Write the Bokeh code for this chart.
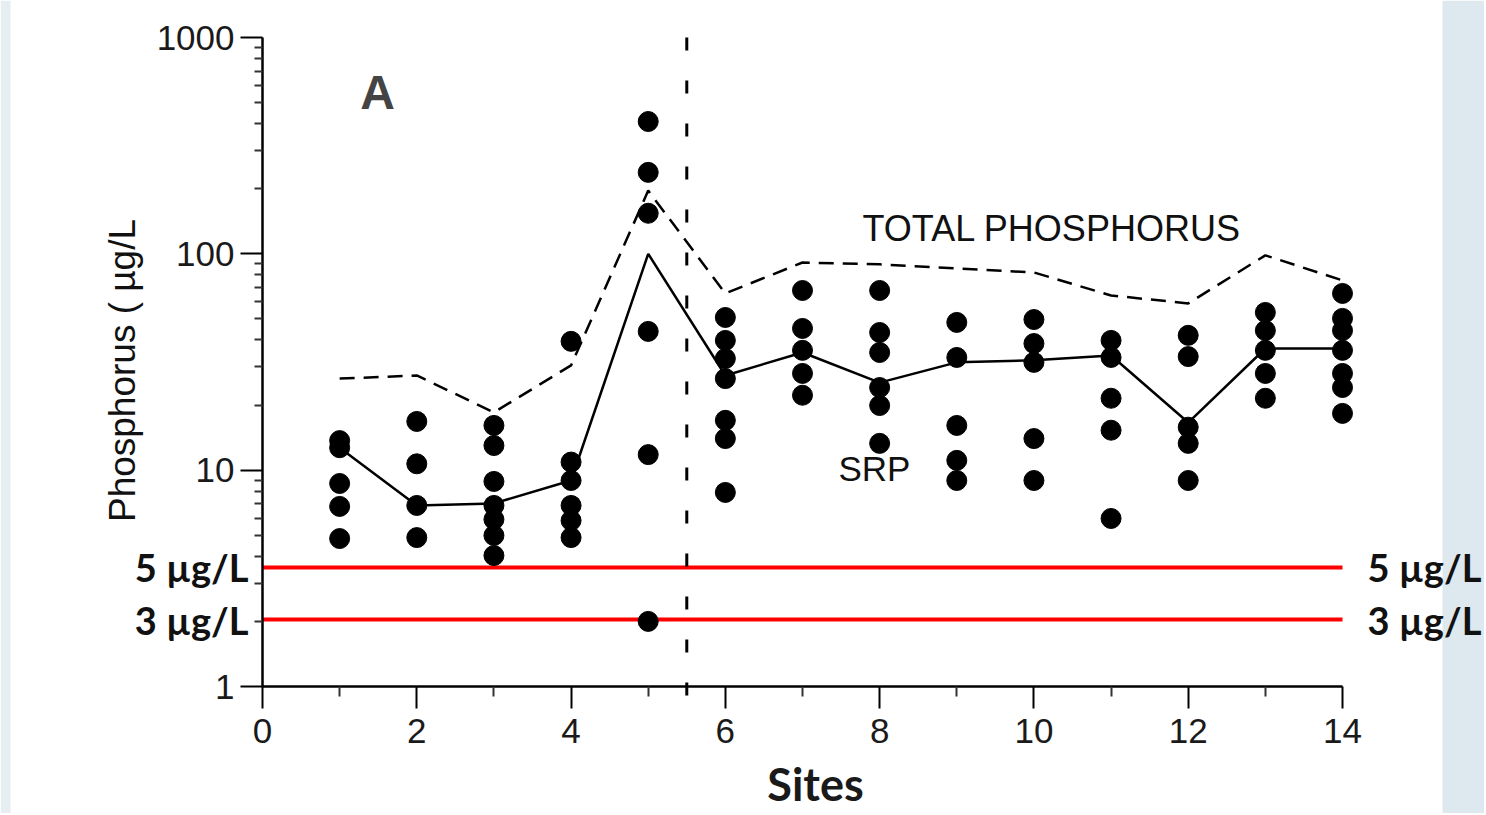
import math
from bokeh.plotting import figure
from bokeh.models import Label, FixedTicker, NumeralTickFormatter, Range1d, LinearAxis, LogAxis, BoxAnnotation
from bokeh.embed import file_html
from bokeh.resources import INLINE

# ---------------- data ----------------
sites = list(range(1, 15))
srp_dots = [
    [13.7, 12.7, 8.68, 6.80, 4.83],            # site 1
    [16.8, 10.7, 6.87, 4.88],                  # site 2
    [16.1, 13.0, 8.87, 6.87, 5.92, 4.99, 4.03],# site 3
    [39.4, 10.9, 8.96, 6.87, 5.85, 4.88],      # site 4
    [409, 238, 154, 43.8, 11.8, 2.0],          # site 5
    [50.8, 39.8, 32.8, 26.5, 17.0, 14.0, 7.89],# site 6
    [67.7, 45.2, 35.8, 28.0, 22.2],            # site 7
    [67.7, 43.3, 35.0, 24.1, 19.9, 13.3],      # site 8
    [48.2, 33.2, 16.1, 11.1, 8.96],            # site 9
    [49.7, 38.5, 31.5, 14.0, 8.96],            # site 10
    [39.8, 33.2, 21.5, 15.3, 5.98],            # site 11
    [42.0, 33.5, 15.8, 13.3, 8.96],            # site 12
    [53.6, 44.2, 35.8, 28.0, 21.5],            # site 13
    [65.6, 50.3, 44.2, 35.8, 28.0, 24.1, 18.3],# site 14
]
srp_line = [12.7, 6.87, 7.02, 8.96, 100, 27.4, 35.0, 25.4, 31.5, 32.2, 33.9, 16.6, 36.5, 36.5]
tp_line = [26.5, 27.4, 18.5, 30.5, 196, 65.6, 91.2, 89.4, 85.6, 82.0, 64.2, 59.0, 98.4, 75.4]
divider_site = 5.5
limit_levels = [3.55, 2.04]
limit_labels = ["5 µg/L", "3 µg/L"]
x_ticks = [0, 2, 4, 6, 8, 10, 12, 14]
x_minor = [1, 3, 5, 7, 9, 11, 13]
y_ticks = [1, 10, 100, 1000]
y_minor = [2, 3, 4, 5, 6, 7, 8, 9, 20, 30, 40, 50, 60, 70, 80, 90,
           200, 300, 400, 500, 600, 700, 800, 900]

dot_x = [s for s, vals in zip(sites, srp_dots) for _ in vals]
dot_y = [v for vals in srp_dots for v in vals]

# ---------------- layout geometry (pixels) ----------------
W, H = 1484, 813
px_x0, px_x14 = 262, 1342          # where x=0 and x=14 fall
px_y1, px_y1000 = 686, 37          # where y=1 and y=1000 fall
ux = (px_x14 - px_x0) / 14.0
uy = (px_y1 - px_y1000) / 3.0
x_lo = -px_x0 / ux
x_hi = (W - px_x0) / ux
y_lo = 10 ** (-(H - px_y1) / uy)
y_hi = 10 ** (3 + px_y1000 / uy)

def xpx(px):
    return (px - px_x0) / ux

def ypx(py):
    return 10 ** ((px_y1 - py) / uy)

p = figure(width=W, height=H, y_axis_type="log",
           x_range=Range1d(x_lo, x_hi), y_range=Range1d(y_lo, y_hi),
           x_axis_location=None, y_axis_location=None,
           output_backend="svg", toolbar_location=None, min_border=0)
p.outline_line_color = None
p.grid.visible = False
p.background_fill_color = "white"
p.border_fill_color = "white"

# slide side strips (decoration)
p.add_layout(BoxAnnotation(left=xpx(1442), fill_color="#dde9ee", fill_alpha=1, line_alpha=0))
p.add_layout(BoxAnnotation(right=xpx(10), fill_color="#e6eef2", fill_alpha=1, line_alpha=0))

# axes (drawn at x=0 / y=1)
xaxis = LinearAxis(fixed_location=1, bounds=(0, 14),
                   ticker=FixedTicker(ticks=x_ticks, minor_ticks=x_minor))
yaxis = LogAxis(fixed_location=0, bounds=(1, 1000),
                ticker=FixedTicker(ticks=y_ticks, minor_ticks=y_minor),
                formatter=NumeralTickFormatter(format="0"))
for ax in (xaxis, yaxis):
    ax.axis_line_color = "black"
    ax.axis_line_width = 2.5
    ax.major_tick_line_color = "black"
    ax.major_tick_line_width = 2
    ax.minor_tick_line_color = "#333333"
    ax.minor_tick_line_width = 2
    ax.major_tick_in = 0
    ax.minor_tick_in = 0
    ax.major_label_text_font = "Liberation Sans"
    ax.major_label_text_font_size = "35px"
    ax.major_label_text_color = "#1a1a1a"
xaxis.major_tick_out = 22
xaxis.minor_tick_out = 10
xaxis.major_label_standoff = 10
yaxis.major_tick_out = 22
yaxis.minor_tick_out = 8
yaxis.major_label_standoff = 6
p.add_layout(xaxis, "below")
p.add_layout(yaxis, "left")

# threshold lines
p.segment(x0=[x_ticks[0]] * 2, y0=limit_levels, x1=[x_ticks[-1]] * 2, y1=limit_levels,
          line_color="#ff0000", line_width=4)

# vertical divider
p.segment(x0=[divider_site], y0=[y_ticks[-1]], x1=[divider_site], y1=[0.86],
          line_color="black", line_width=3, line_dash="13 30")

# series
p.line(sites, tp_line, line_color="black", line_width=2.5, line_dash="15 9")
p.line(sites, srp_line, line_color="black", line_width=2.5)
p.scatter(dot_x, dot_y, size=20, fill_color="black", line_color="black")

# text annotations
p.add_layout(Label(x=xpx(377), y=ypx(92), text="A", text_font="Liberation Sans",
                   text_font_style="bold", text_font_size="48px",
                   text_align="center", text_baseline="middle"))
p.add_layout(Label(x=xpx(862), y=ypx(228), text="TOTAL PHOSPHORUS", text_font="Liberation Sans",
                   text_font_size="36px", text_baseline="middle", text_color="#111111"))
p.add_layout(Label(x=xpx(838), y=ypx(468), text="SRP", text_font="Liberation Sans",
                   text_font_size="35px", text_baseline="middle", text_color="#111111"))
p.add_layout(Label(x=xpx(815), y=ypx(783), text="Sites", text_font="Lato", text_font_style="bold",
                   text_font_size="45px", text_align="center", text_baseline="middle",
                   text_color="#1a1a1a"))
p.add_layout(Label(x=xpx(122), y=ypx(370), text="Phosphorus ( µg/L", angle=math.pi / 2,
                   text_font="Liberation Sans", text_font_size="37px",
                   text_align="center", text_baseline="middle", text_color="#111111"))
for lvl, lab in zip(limit_levels, limit_labels):
    p.add_layout(Label(x=xpx(248), y=lvl, text=lab, text_font="Lato", text_font_style="bold",
                       text_font_size="38px", text_align="right", text_baseline="middle",
                       text_color="#111111"))
    p.add_layout(Label(x=xpx(1367), y=lvl, text=lab, text_font="Lato", text_font_style="bold",
                       text_font_size="38px", text_align="left", text_baseline="middle",
                       text_color="#111111"))

open("out.html", "w").write(file_html(p, INLINE))
